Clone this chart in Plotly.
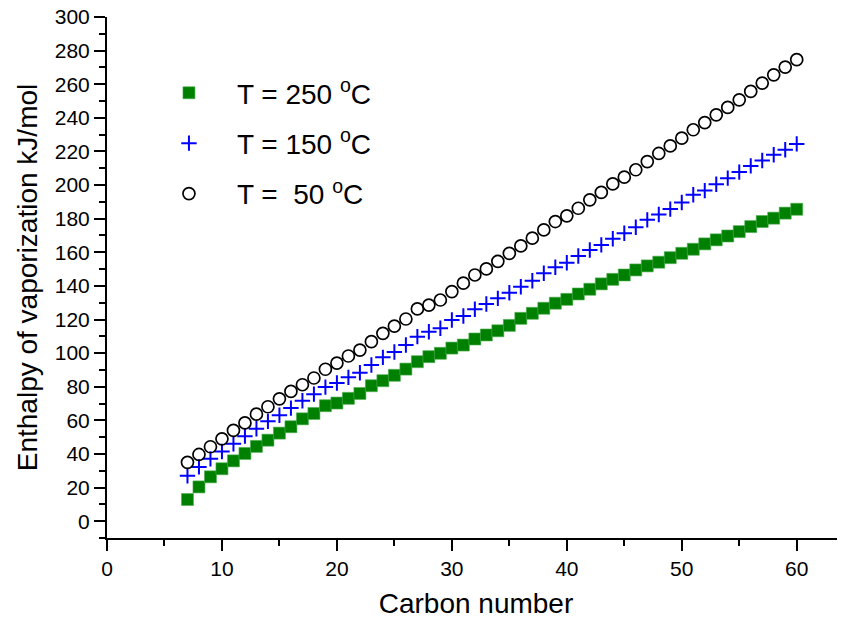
import plotly.graph_objects as go

carbon = list(range(7, 61))

h_250 = [12.9, 20.4, 26.4, 31.2, 35.9, 40.3, 44.5, 48.2, 52.4, 56.2, 60.9, 64.1, 68.7, 70.3,
         73.1, 76.0, 80.6, 83.6, 86.8, 90.5, 94.9, 97.9, 99.9, 103.0, 104.8, 108.4, 110.8, 113.3,
         116.5, 120.7, 123.7, 126.7, 129.7, 132.0, 135.2, 138.0, 141.2, 143.9, 146.5, 149.5, 151.9,
         154.1, 156.8, 159.4, 161.8, 165.0, 167.4, 169.7, 172.3, 175.3, 178.3, 180.3, 183.3, 185.6]

h_150 = [27.0, 32.3, 37.1, 41.5, 46.1, 50.6, 55.0, 59.4, 63.0, 67.3, 71.7, 75.6, 79.8, 82.2,
         85.6, 88.3, 92.9, 97.5, 100.7, 104.8, 109.8, 112.7, 114.8, 119.7, 122.1, 126.1, 129.2, 132.6,
         135.9, 139.5, 143.1, 147.5, 151.1, 153.8, 157.8, 161.4, 164.4, 168.1, 171.3, 174.9, 179.3,
         182.5, 185.7, 189.6, 194.2, 196.7, 200.5, 204.1, 207.7, 211.4, 214.6, 218.0, 221.0, 224.5]

h_50 = [35.0, 39.7, 44.3, 49.0, 54.0, 58.5, 63.7, 68.1, 72.8, 77.2, 81.2, 85.2, 90.4, 94.1,
        98.3, 101.8, 106.8, 111.8, 116.1, 120.3, 126.3, 128.6, 131.6, 136.6, 141.6, 146.5, 150.1, 154.6,
        159.4, 163.8, 168.4, 173.3, 178.3, 181.7, 186.2, 191.2, 195.6, 200.7, 204.7, 209.1, 214.0,
        218.8, 223.3, 227.9, 232.9, 237.2, 241.8, 246.2, 250.7, 255.7, 260.7, 265.6, 270.2, 274.6]

names = ["T = 250 <sup>o</sup>C", "T = 150 <sup>o</sup>C", "T =\u00a0 50 <sup>o</sup>C"]

FONT = "Liberation Sans, Arial, sans-serif"

fig = go.Figure()
fig.add_trace(go.Scatter(
    x=carbon, y=h_250, mode="markers", name=names[0], legendgroup="a",
    marker=dict(symbol="square", size=12, color="#008000",
                line=dict(color="#4caf50", width=0.6))))
fig.add_trace(go.Scatter(
    x=carbon, y=h_150, mode="markers", name=names[1], legendgroup="b",
    marker=dict(symbol="cross-thin", size=11, color="#0000ff",
                line=dict(color="#0000ff", width=2))))
fig.add_trace(go.Scatter(
    x=carbon, y=h_50, mode="markers", name=names[2], legendgroup="c",
    marker=dict(symbol="circle-open", size=12, color="#000000",
                line=dict(color="#000000", width=1.7))))

axis_common = dict(
    showline=True, linecolor="black", linewidth=2, mirror=False,
    ticks="outside", ticklen=11, tickwidth=1.5, tickcolor="black",
    showgrid=False, zeroline=False, automargin=False, ticklabeloverflow="allow",
    tickfont=dict(family=FONT, size=21, color="black"),
)

fig.update_xaxes(
    range=[0, 64.2], dtick=10, tick0=0,
    minor=dict(ticks="outside", dtick=5, ticklen=6, tickwidth=1.5, tickcolor="black"),
    title=dict(text="Carbon number", font=dict(family=FONT, size=28, color="black"), standoff=14),
    **axis_common)
fig.update_yaxes(
    range=[-10, 300], dtick=20, tick0=0,
    minor=dict(ticks="outside", dtick=10, ticklen=6, tickwidth=1.5, tickcolor="black"),
    title=dict(text="Enthalpy of vaporization kJ/mol", font=dict(family=FONT, size=28, color="black"), standoff=9),
    **axis_common)

# the page body adds an 8px offset; size the figure so the plot area lands where the reference has it
fig.update_layout(
    width=837, height=612,
    margin=dict(l=99, r=0, t=9, b=82),
    plot_bgcolor="white", paper_bgcolor="white",
    font=dict(family=FONT, color="black"),
    legend=dict(x=0.046, y=0.902, xanchor="left", yanchor="top",
                font=dict(family=FONT, size=28, color="black"),
                bgcolor="rgba(0,0,0,0)", tracegroupgap=11, itemwidth=86),
)

fig.write_html("out.html")
